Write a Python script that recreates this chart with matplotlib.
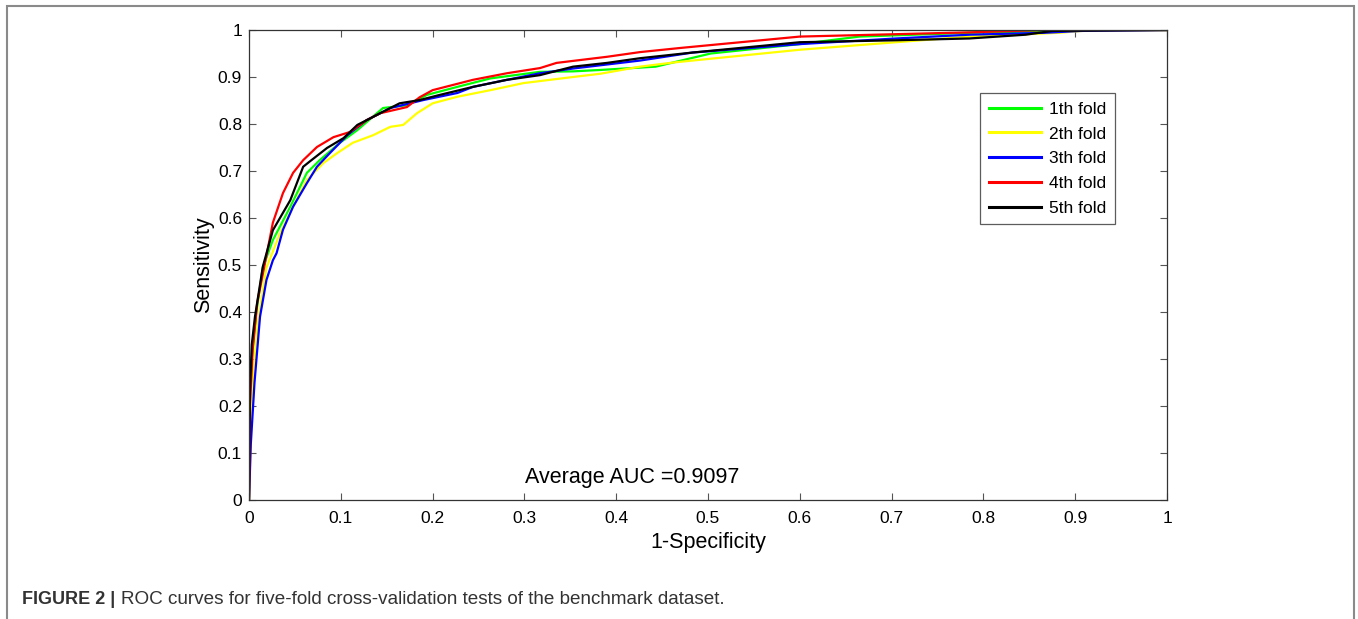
import matplotlib
matplotlib.use('Agg')
import matplotlib.pyplot as plt
from matplotlib.patches import Rectangle
from matplotlib.ticker import FormatStrFormatter

plt.rcParams['font.family'] = ['Liberation Sans', 'DejaVu Sans']

# ROC points (1-specificity, sensitivity)
fold1_x = [0, 0.001, 0.003, 0.008, 0.015, 0.026, 0.045, 0.063, 0.077, 0.099, 0.118, 0.146, 0.172, 0.194,
           0.227, 0.263, 0.317, 0.353, 0.383, 0.443, 0.503, 0.6, 0.665, 0.785, 0.88, 0.92, 1.0]
fold1_y = [0, 0.15, 0.3, 0.4, 0.494, 0.553, 0.624, 0.696, 0.723, 0.76, 0.787, 0.834, 0.84, 0.862,
           0.879, 0.897, 0.911, 0.912, 0.915, 0.922, 0.95, 0.97, 0.986, 0.994, 0.998, 1.0, 1.0]

fold2_x = [0, 0.002, 0.005, 0.01, 0.019, 0.034, 0.048, 0.063, 0.081, 0.096, 0.113, 0.135, 0.154, 0.168,
           0.183, 0.2, 0.227, 0.263, 0.299, 0.353, 0.383, 0.426, 0.463, 0.6, 0.705, 0.785, 0.882, 0.92, 1.0]
fold2_y = [0, 0.15, 0.28, 0.38, 0.494, 0.568, 0.624, 0.681, 0.717, 0.738, 0.76, 0.776, 0.794, 0.798,
           0.823, 0.844, 0.858, 0.872, 0.887, 0.9, 0.907, 0.922, 0.931, 0.958, 0.974, 0.986, 0.994, 1.0, 1.0]

fold3_x = [0, 0.002, 0.006, 0.012, 0.019, 0.026, 0.03, 0.037, 0.048, 0.063, 0.074, 0.088, 0.107, 0.128,
           0.154, 0.19, 0.227, 0.244, 0.281, 0.317, 0.353, 0.383, 0.426, 0.483, 0.6, 0.705, 0.785, 0.866,
           0.906, 1.0]
fold3_y = [0, 0.12, 0.25, 0.39, 0.468, 0.51, 0.525, 0.575, 0.624, 0.674, 0.709, 0.738, 0.776, 0.808,
           0.834, 0.851, 0.866, 0.879, 0.894, 0.908, 0.918, 0.925, 0.935, 0.952, 0.97, 0.982, 0.99, 0.994,
           0.998, 1.0]

fold4_x = [0, 0.001, 0.004, 0.009, 0.016, 0.026, 0.037, 0.048, 0.059, 0.074, 0.092, 0.11, 0.128, 0.143,
           0.172, 0.186, 0.2, 0.244, 0.281, 0.317, 0.335, 0.39, 0.426, 0.471, 0.6, 0.785, 0.866, 1.0]
fold4_y = [0, 0.2, 0.32, 0.42, 0.49, 0.59, 0.653, 0.696, 0.723, 0.751, 0.772, 0.783, 0.808, 0.823,
           0.836, 0.857, 0.872, 0.894, 0.908, 0.919, 0.93, 0.943, 0.953, 0.962, 0.986, 0.995, 1.0, 1.0]

fold5_x = [0, 0.001, 0.003, 0.0065, 0.015, 0.026, 0.045, 0.059, 0.066, 0.085, 0.103, 0.118, 0.143, 0.164,
           0.186, 0.208, 0.244, 0.281, 0.317, 0.353, 0.39, 0.426, 0.483, 0.6, 0.701, 0.785, 0.846, 0.875, 1.0]
fold5_y = [0, 0.23, 0.33, 0.39, 0.496, 0.574, 0.638, 0.709, 0.72, 0.749, 0.77, 0.798, 0.823, 0.844,
           0.851, 0.862, 0.879, 0.894, 0.904, 0.922, 0.93, 0.94, 0.952, 0.974, 0.978, 0.982, 0.99, 0.998, 1.0]

fold_names = ['1th fold', '2th fold', '3th fold', '4th fold', '5th fold']
fold_colors = ['#00ff00', '#ffff00', '#0000ff', '#ff0000', '#000000']
avg_auc = 0.9097

fig = plt.figure(figsize=(13.58, 6.19), dpi=100)
ax = fig.add_axes([249 / 1358, 1 - 500 / 619, 918 / 1358, 470 / 619])

curves = [(fold1_x, fold1_y), (fold2_x, fold2_y), (fold3_x, fold3_y), (fold4_x, fold4_y), (fold5_x, fold5_y)]
for (xs, ys), name, col in zip(curves, fold_names, fold_colors):
    ax.plot(xs, ys, color=col, lw=1.6, label=name)

ax.set_xlim(0, 1)
ax.set_ylim(0, 1)
ax.set_xticks([i / 10 for i in range(11)])
ax.set_yticks([i / 10 for i in range(11)])
ax.xaxis.set_major_formatter(FormatStrFormatter('%g'))
ax.yaxis.set_major_formatter(FormatStrFormatter('%g'))
ax.tick_params(direction='in', top=True, right=True, length=5, width=0.8,
               color='#555555', labelsize=12.5, pad=5)
ax.tick_params(axis='x', pad=8)
for s in ax.spines.values():
    s.set_color('#333333')
    s.set_linewidth(0.9)

ax.set_xlabel('1-Specificity', fontsize=15.5, labelpad=4)
ax.set_ylabel('Sensitivity', fontsize=15.5, labelpad=3)
ax.text(0.3007, 0.047, 'Average AUC =%.4f' % avg_auc, fontsize=15.5, va='center', ha='left')

leg = ax.legend(loc='upper left', bbox_to_anchor=(731 / 918, 1 - 63 / 470), fontsize=12.5,
                frameon=True, fancybox=False, borderaxespad=0, handlelength=3.0,
                labelspacing=0.55, borderpad=0.5, handletextpad=0.45)
leg.get_frame().set_edgecolor('#333333')
leg.get_frame().set_linewidth(0.9)
for ln in leg.get_lines():
    ln.set_linewidth(2.2)

# outer frame of the figure panel
fig.add_artist(Rectangle((7 / 1358, -0.05), (1354 - 7) / 1358, 1.05 - 6 / 619,
                         transform=fig.transFigure, fill=False, edgecolor='#8a8a8a', lw=1.5))

fig.text(22 / 1358, 1 - 599 / 619, 'FIGURE 2 |', fontsize=13, fontweight='bold', va='center',
         color='#333333')
fig.text(121 / 1358, 1 - 599 / 619, 'ROC curves for five-fold cross-validation tests of the benchmark dataset.',
         fontsize=13.6, va='center', color='#333333')

fig.savefig('out.png', dpi=100)
